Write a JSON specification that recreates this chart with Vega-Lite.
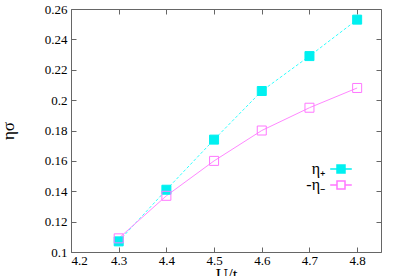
{
  "$schema": "https://vega.github.io/schema/vega-lite/v6.json",
  "width": 310,
  "height": 243,
  "autosize": {"type": "none"},
  "padding": {"left": 71, "top": 9, "right": 14, "bottom": 24},
  "config": {
    "font": "DejaVu Serif",
    "view": {"stroke": "#666666", "strokeWidth": 1},
    "axis": {
      "grid": false,
      "domain": false,
      "tickColor": "#666666",
      "tickSize": -5,
      "labelFont": "Liberation Serif",
      "labelFontSize": 13,
      "labelColor": "#000000",
      "titleFont": "Liberation Serif",
      "titleFontWeight": "normal",
      "titleFontSize": 17,
      "titleColor": "#000000"
    },
    "legend": {"labelFont": "Liberation Serif"}
  },
  "data": {
    "values": [
      {"U": 4.3, "eta": 0.107, "series": "η₊"},
      {"U": 4.4, "eta": 0.141, "series": "η₊"},
      {"U": 4.5, "eta": 0.174, "series": "η₊"},
      {"U": 4.6, "eta": 0.206, "series": "η₊"},
      {"U": 4.7, "eta": 0.229, "series": "η₊"},
      {"U": 4.8, "eta": 0.253, "series": "η₊"},
      {"U": 4.3, "eta": 0.109, "series": "-η₋"},
      {"U": 4.4, "eta": 0.137, "series": "-η₋"},
      {"U": 4.5, "eta": 0.160, "series": "-η₋"},
      {"U": 4.6, "eta": 0.180, "series": "-η₋"},
      {"U": 4.7, "eta": 0.195, "series": "-η₋"},
      {"U": 4.8, "eta": 0.208, "series": "-η₋"}
    ]
  },
  "resolve": {"axis": {"x": "independent", "y": "independent"}},
  "layer": [
    {
      "transform": [{"filter": "datum.series === 'η₊'"}],
      "mark": {"type": "line", "strokeWidth": 1, "color": "#33ffff", "strokeDash": [3, 2]},
      "encoding": {
        "x": {"field": "U", "type": "quantitative", "scale": {"domain": [4.2, 4.85], "nice": false, "zero": false},
              "axis": {"title": "U/t", "values": [4.2, 4.3, 4.4, 4.5, 4.6, 4.7, 4.8], "format": ".1f", "labelPadding": 7, "titlePadding": -1}},
        "y": {"field": "eta", "type": "quantitative", "scale": {"domain": [0.1, 0.26], "nice": false, "zero": false},
              "axis": {"title": "ησ", "values": [0.1, 0.12, 0.14, 0.16, 0.18, 0.2, 0.22, 0.24, 0.26], "format": ".2~f", "labelPadding": 9, "titlePadding": 27}}
      }
    },
    {
      "transform": [{"filter": "datum.series === '-η₋'"}],
      "mark": {"type": "line", "strokeWidth": 1, "color": "#ff88ff"},
      "encoding": {
        "x": {"field": "U", "type": "quantitative", "scale": {"domain": [4.2, 4.85], "nice": false, "zero": false}, "axis": null},
        "y": {"field": "eta", "type": "quantitative", "scale": {"domain": [0.1, 0.26], "nice": false, "zero": false}, "axis": null}
      }
    },
    {
      "mark": {"type": "point", "shape": "square", "size": 81, "strokeWidth": 1, "opacity": 1},
      "encoding": {
        "x": {"field": "U", "type": "quantitative", "scale": {"domain": [4.2, 4.85], "nice": false, "zero": false}, "axis": null},
        "y": {"field": "eta", "type": "quantitative", "scale": {"domain": [0.1, 0.26], "nice": false, "zero": false}, "axis": null},
        "stroke": {"field": "series", "type": "nominal", "scale": {"domain": ["η₊", "-η₋"], "range": ["#00f0f0", "#ff77ff"]},
                   "legend": {"title": null, "orient": "none", "legendX": 262, "legendY": 152, "labelFontSize": 16, "labelAlign": "right", "labelOffset": -24, "rowPadding": -6, "symbolType": "M-2.7,0H-1M-1,-1H1V1H-1ZM1,0H2.7", "symbolSize": 64}},
        "fill": {"field": "series", "type": "nominal", "scale": {"domain": ["η₊", "-η₋"], "range": ["#00f0f0", "transparent"]},
                 "legend": {"title": null, "orient": "none", "legendX": 262, "legendY": 152, "labelFontSize": 16, "labelAlign": "right", "labelOffset": -24, "rowPadding": -6, "symbolType": "M-2.7,0H-1M-1,-1H1V1H-1ZM1,0H2.7", "symbolSize": 64}}
      }
    },
    {
      "mark": {"type": "point", "opacity": 0},
      "encoding": {
        "x": {"field": "U", "type": "quantitative", "scale": {"domain": [4.2, 4.85], "nice": false, "zero": false},
              "axis": {"orient": "top", "labels": false, "title": null, "values": [4.2, 4.3, 4.4, 4.5, 4.6, 4.7, 4.8]}},
        "y": {"field": "eta", "type": "quantitative", "scale": {"domain": [0.1, 0.26], "nice": false, "zero": false},
              "axis": {"orient": "right", "labels": false, "title": null, "values": [0.1, 0.12, 0.14, 0.16, 0.18, 0.2, 0.22, 0.24, 0.26]}}
      }
    }
  ]
}
